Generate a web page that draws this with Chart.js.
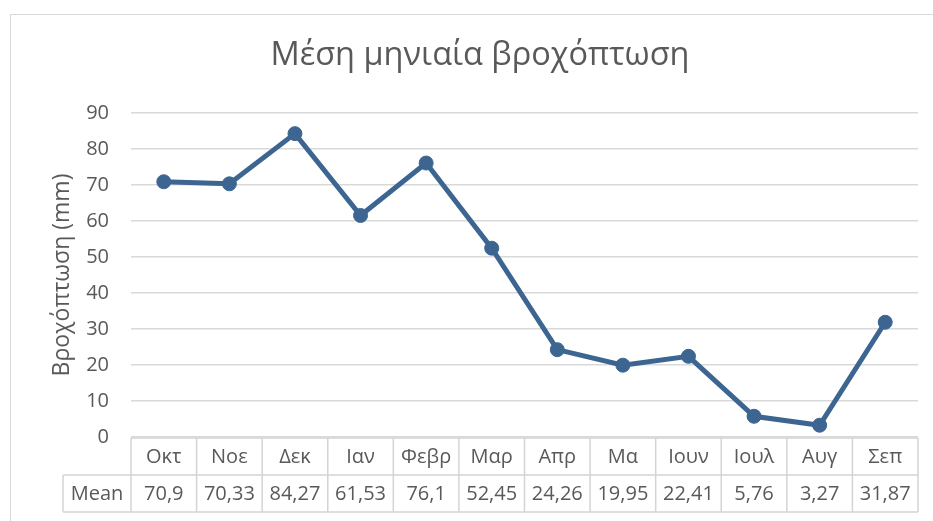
<!DOCTYPE html>
<html>
<head>
<meta charset="utf-8">
<script src="https://cdn.jsdelivr.net/npm/chart.js@4"></script>
<style>
  html, body { margin: 0; padding: 0; background: #fff; overflow: hidden; }
  #wrap { position: relative; width: 933px; height: 521px; }
  #frame { position: absolute; left: 10px; top: 14px; width: 1000px; height: 600px; border: 1px solid #d9d9d9; pointer-events: none; }
  canvas { position: absolute; left: 0; top: 0; }
</style>
</head>
<body>
<div id="wrap">
  <canvas id="rainChart" width="933" height="521"></canvas>
  <div id="frame"></div>
</div>
<script>
  const months = ['Οκτ', 'Νοε', 'Δεκ', 'Ιαν', 'Φεβρ', 'Μαρ', 'Απρ', 'Μα', 'Ιουν', 'Ιουλ', 'Αυγ', 'Σεπ'];
  const meanRain = [70.9, 70.33, 84.27, 61.53, 76.1, 52.45, 24.26, 19.95, 22.41, 5.76, 3.27, 31.87];
  const meanLabels = ['70,9', '70,33', '84,27', '61,53', '76,1', '52,45', '24,26', '19,95', '22,41', '5,76', '3,27', '31,87'];
  const seriesName = 'Mean';

  const FONT = "'Open Sans', 'Noto Sans', sans-serif";
  const TEXT = '#595959';
  const LINE = '#3d6591';

  // Excel-style data table under the plot
  const dataTable = {
    id: 'dataTable',
    afterDraw(chart) {
      const { ctx, chartArea, scales } = chart;
      const x = scales.x;
      const cw = (chartArea.right - chartArea.left) / months.length;
      const top = chartArea.bottom + 1;
      const mid = top + 37;
      const bot = mid + 37;
      const left = chartArea.left;
      const right = chartArea.right;
      const hdrLeft = left - 68;

      ctx.save();
      ctx.strokeStyle = '#d4d4d4';
      ctx.lineWidth = 1.5;
      ctx.beginPath();
      ctx.moveTo(left, top); ctx.lineTo(right, top);
      ctx.moveTo(hdrLeft, mid); ctx.lineTo(right, mid);
      ctx.moveTo(hdrLeft, bot); ctx.lineTo(right, bot);
      ctx.moveTo(hdrLeft, mid); ctx.lineTo(hdrLeft, bot);
      for (let i = 0; i <= months.length; i++) {
        const bx = left + i * cw;
        ctx.moveTo(bx, top); ctx.lineTo(bx, bot);
      }
      ctx.stroke();

      ctx.fillStyle = TEXT;
      ctx.font = '20px ' + FONT;
      ctx.textAlign = 'center';
      ctx.textBaseline = 'middle';
      months.forEach((m, i) => {
        const cx = x.getPixelForValue(i);
        ctx.fillText(m, cx, (top + mid) / 2 + 1);
        ctx.fillText(meanLabels[i], cx, (mid + bot) / 2 + 1);
      });
      ctx.fillText(seriesName, (hdrLeft + left) / 2, (mid + bot) / 2 + 1);
      ctx.restore();
    }
  };

  new Chart(document.getElementById('rainChart'), {
    type: 'line',
    data: {
      labels: months,
      datasets: [{
        label: seriesName,
        data: meanRain,
        borderColor: LINE,
        backgroundColor: LINE,
        borderWidth: 5,
        pointRadius: 7,
        pointBackgroundColor: LINE,
        pointBorderColor: LINE,
        pointBorderWidth: 1,
        tension: 0,
        fill: false,
      }],
    },
    options: {
      responsive: false,
      animation: false,
      layout: { padding: { left: 42, right: 15, top: 0, bottom: 84 } },
      plugins: {
        legend: { display: false },
        tooltip: { enabled: false },
        title: {
          display: true,
          text: 'Μέση μηνιαία βροχόπτωση',
          color: TEXT,
          font: { family: FONT, size: 32.5, weight: 'normal' },
          padding: { top: 36, bottom: 38 },
        },
      },
      scales: {
        x: {
          display: false,
          offset: true,
        },
        y: {
          min: 0,
          max: 90,
          ticks: { stepSize: 10, color: TEXT, padding: 22, font: { family: FONT, size: 20 } },
          grid: { color: '#d9d9d9', lineWidth: 1.5, drawTicks: false },
          border: { display: false },
          title: {
            display: true,
            text: 'Βροχόπτωση (mm)',
            color: TEXT,
            font: { family: FONT, size: 23, weight: 'normal' },
            padding: { top: 7, bottom: 0 },
          },
          afterFit(scale) { scale.width = 89; },
        },
      },
    },
    plugins: [dataTable],
  });
</script>
</body>
</html>
